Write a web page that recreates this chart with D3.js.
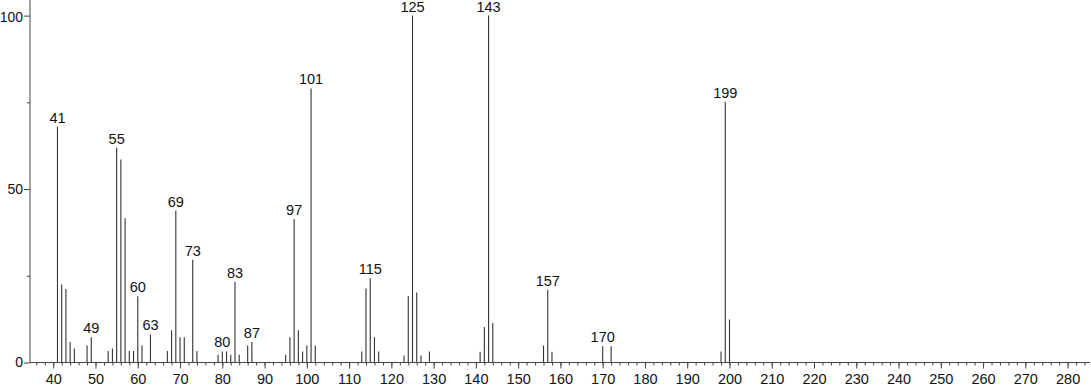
<!DOCTYPE html>
<html><head><meta charset="utf-8">
<script src="https://cdn.jsdelivr.net/npm/d3@7"></script>
<style>body{margin:0;background:#fff}svg{display:block}text{font-family:"Liberation Sans",Arial,sans-serif}</style>
</head><body>
<svg id="c" width="1091" height="387"></svg>
<script>
const mz = [41,42,43,44,45,48,49,53,54,55,56,57,58,59,60,61,63,67,68,69,70,71,73,74,
  79,80,81,82,83,84,86,87,95,96,97,98,99,100,101,102,113,114,115,116,117,
  123,124,125,126,127,129,141,142,143,144,156,157,158,170,172,198,199,200];
const intensity = [68,22.5,21.2,5.9,4.0,4.9,7.3,3.3,4.0,61.9,58.5,41.6,3.3,3.3,19.1,4.9,8.1,3.3,9.3,43.8,7.3,7.3,29.6,3.3,
  2.2,3.2,3.2,2.2,23.3,2.2,4.9,5.9,2.2,7.3,41.4,9.3,3.2,4.9,79.0,4.9,3.2,21.3,24.3,7.3,3.2,
  2.0,19.2,100,20.2,2.0,3.2,3.1,10.2,100,11.4,4.9,21.0,3.1,4.7,4.7,3.2,75.2,12.4];
const labeled = [41,49,55,60,63,69,73,80,83,87,97,101,115,125,143,157,170,199];
const xMajor = d3.range(40, 281, 10);
const xMinor = d3.range(36, 285, 2);
const yMajor = [0,50,100];
const yMinor = [25,75];

const svg = d3.select("#c");
const x = d3.scaleLinear().domain([34.5, 285.3]).range([30, 1090]);
const y = d3.scaleLinear().domain([0, 104.5]).range([362.5, 0]);
const data = mz.map((m,i)=>({m, v:intensity[i]}));

// peaks
svg.append("g").selectAll("line").data(data).join("line")
  .attr("x1", d=>x(d.m)).attr("x2", d=>x(d.m))
  .attr("y1", y(0)).attr("y2", d=>y(d.v))
  .attr("stroke", "#333").attr("stroke-width", 1.1);

// labels
svg.append("g").selectAll("text").data(data.filter(d=>labeled.includes(d.m))).join("text")
  .attr("x", d=>x(d.m)).attr("y", d=>y(d.v)-4)
  .attr("text-anchor","middle").attr("font-size", 14.5).attr("fill","#111")
  .text(d=>d.m);

// x axis
const gx = svg.append("g").attr("transform", `translate(0,${y(0)})`);
gx.append("g").call(d3.axisBottom(x).tickValues(xMinor).tickSize(3).tickFormat(""))
  .call(g=>g.select(".domain").remove());
gx.append("g").call(d3.axisBottom(x).tickValues(xMajor).tickSize(6).tickPadding(5).tickFormat(d3.format("d")))
  .call(g=>g.select(".domain").attr("d", `M${x.range()[0]},0H${x.range()[1]}`));
gx.selectAll("text").attr("font-size", 14.5).attr("fill","#111").attr("font-family",'"Liberation Sans",Arial,sans-serif');

// y axis
const gy = svg.append("g").attr("transform", `translate(${x.range()[0]},0)`);
gy.append("g").call(d3.axisLeft(y).tickValues(yMinor).tickSize(3).tickFormat(""))
  .call(g=>g.select(".domain").remove());
gy.append("g").call(d3.axisLeft(y).tickValues(yMajor).tickSize(6).tickPadding(1).tickFormat(d3.format("d")))
  .call(g=>g.select(".domain").attr("d", `M0,${y.range()[0]}V${y.range()[1]}`));
gy.selectAll("text").attr("font-size", 14).attr("fill","#111").attr("font-family",'"Liberation Sans",Arial,sans-serif');
gy.selectAll(".tick text").filter(d=>d===100).attr("dy","0.45em");
svg.selectAll(".domain, .tick line").attr("stroke","#444");
</script>
</body></html>
